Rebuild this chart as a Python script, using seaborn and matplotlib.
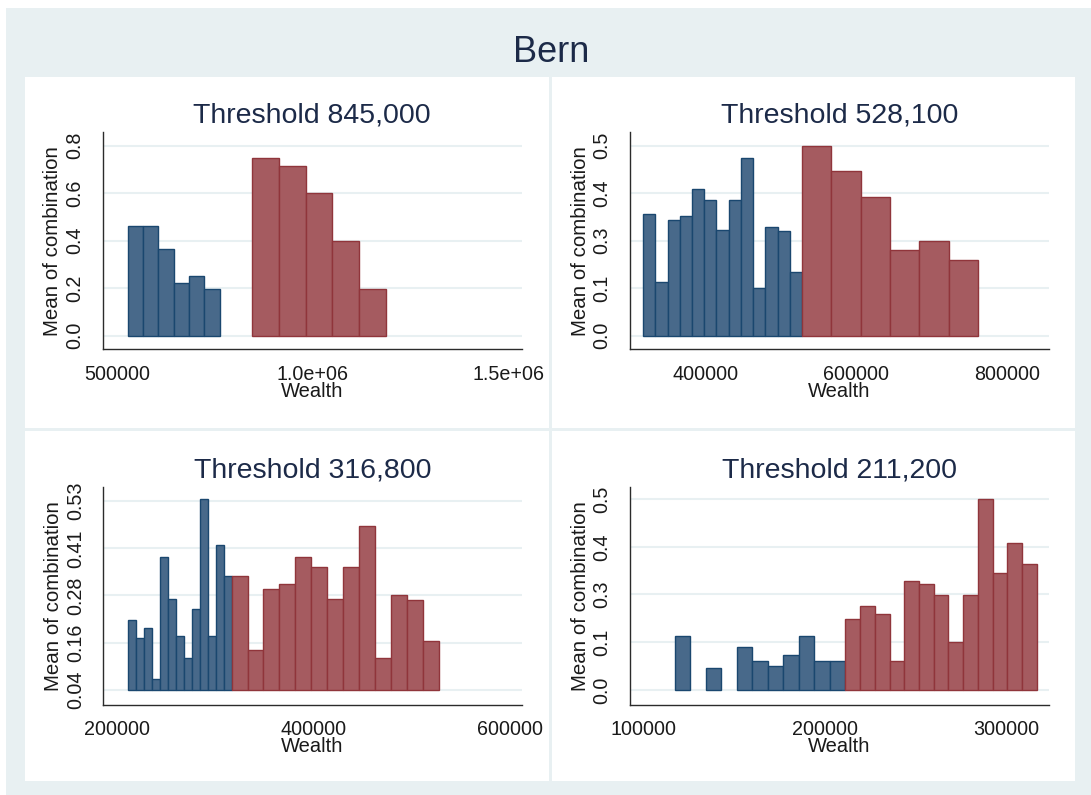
import matplotlib
matplotlib.use("Agg")
import matplotlib.pyplot as plt
import numpy as np
import seaborn as sns
from matplotlib.patches import Rectangle

sns.set_theme(style="white")
plt.rcParams["font.family"] = ["Liberation Sans", "DejaVu Sans"]

# bins below (blue) and above (red) each threshold: start, bin width, mean of combination
titles = ["Threshold 845,000", "Threshold 528,100", "Threshold 316,800", "Threshold 211,200"]

below_start = [528100, 316800, 211200, 117150]
below_width = [39000, 16254, 8123, 8550]
below_mean = [
    [0.463, 0.463, 0.365, 0.220, 0.251, 0.198],
    [0.319, 0.142, 0.303, 0.316, 0.386, 0.357, 0.278, 0.357, 0.468, 0.125, 0.287, 0.274, 0.167],
    [0.220, 0.175, 0.200, 0.069, 0.384, 0.277, 0.179, 0.122, 0.249, 0.535, 0.179, 0.417, 0.335],
    [0.140, np.nan, 0.058, np.nan, 0.112, 0.075, 0.063, 0.091, 0.140, 0.075, 0.075],
]

above_start = [845000, 528100, 316800, 211200]
above_width = [68400, 39000, 16254, 8123]
above_mean = [
    [0.749, 0.716, 0.602, 0.399, 0.198],
    [0.500, 0.432, 0.365, 0.224, 0.249, 0.199],
    [0.335, 0.143, 0.301, 0.314, 0.384, 0.359, 0.277, 0.359, 0.465, 0.122, 0.286, 0.273, 0.166],
    [0.187, 0.220, 0.200, 0.075, 0.285, 0.278, 0.249, 0.125, 0.249, 0.500, 0.306, 0.384, 0.331],
]

bar_base = [0.0, 0.0, 0.04, 0.0]

x_ticks = [[500000, 1000000, 1500000], [400000, 600000, 800000],
           [200000, 400000, 600000], [100000, 200000, 300000]]
x_labels = [["500000", "1.0e+06", "1.5e+06"], ["400000", "600000", "800000"],
            ["200000", "400000", "600000"], ["100000", "200000", "300000"]]
x_lims = [(464000, 1533000), (299400, 856300), (186400, 611900), (92500, 323500)]

y_ticks = [[0.0, 0.2, 0.4, 0.6, 0.8], [0.0, 0.125, 0.25, 0.375, 0.5],
           [0.04, 0.1625, 0.285, 0.4075, 0.53], [0.0, 0.125, 0.25, 0.375, 0.5]]
y_labels = [["0.0", "0.2", "0.4", "0.6", "0.8"], ["0.0", "0.1", "0.3", "0.4", "0.5"],
            ["0.04", "0.16", "0.28", "0.41", "0.53"], ["0.0", "0.1", "0.3", "0.4", "0.5"]]
y_lims = [(-0.058, 0.856), (-0.036, 0.535), (0.001, 0.566), (-0.039, 0.531)]

W, H = 1091, 795
BG = "#e8f0f2"
BLUE, BLUE_EDGE = "#48698a", "#1a476f"
RED, RED_EDGE = "#a55b60", "#90353b"
TXT = "#1a1a1a"
TITLE = "#1c2a48"

fig = plt.figure(figsize=(W / 100, H / 100), dpi=100)
fig.patch.set_facecolor("white")


def px_rect(x0, y0, x1, y1, color, z=-2):
    # rectangle given in pixel coords measured from the top-left corner
    fig.patches.append(Rectangle((x0 / W, 1 - y1 / H), (x1 - x0) / W, (y1 - y0) / H,
                                 transform=fig.transFigure, facecolor=color,
                                 edgecolor="none", zorder=z))


px_rect(6, 8, W, H, BG)
px_rect(25, 77, 1075, 781, "white")
px_rect(549, 77, 552, 781, BG, z=5)
px_rect(25, 428, 1075, 431, BG, z=5)

fig.text(551 / W, 1 - 62 / H, "Bern", ha="center", va="baseline", fontsize=26, color=TITLE)

boxes = [(102.7, 132.3, 521.7, 349.3), (630, 132.3, 1049, 349.3),
         (103.3, 487.3, 521.7, 704.7), (630, 487.3, 1049, 704.7)]

for i, (l, t, r, b) in enumerate(boxes):
    ax = fig.add_axes([l / W, 1 - b / H, (r - l) / W, (b - t) / H])
    ax.set_facecolor("none")
    base = bar_base[i]

    xb = below_start[i] + below_width[i] * np.arange(len(below_mean[i]))
    hb = np.array(below_mean[i])
    ok = ~np.isnan(hb)
    ax.bar(xb[ok], hb[ok] - base, bottom=base, width=below_width[i], align="edge",
           color=BLUE, edgecolor=BLUE_EDGE, linewidth=1.0, zorder=2)

    xa = above_start[i] + above_width[i] * np.arange(len(above_mean[i]))
    ha = np.array(above_mean[i])
    ax.bar(xa, ha - base, bottom=base, width=above_width[i], align="edge",
           color=RED, edgecolor=RED_EDGE, linewidth=1.0, zorder=2)

    ax.set_xlim(*x_lims[i])
    ax.set_ylim(*y_lims[i])
    ax.set_xticks(x_ticks[i])
    ax.set_xticklabels(x_labels[i])
    ax.set_yticks(y_ticks[i])
    ax.set_yticklabels(y_labels[i], rotation=90, va="center")

    ax.yaxis.grid(True, color=BG, linewidth=1.5)
    ax.set_axisbelow(True)
    sns.despine(ax=ax)
    for s in ["left", "bottom"]:
        ax.spines[s].set_color("#2b2b2b")
        ax.spines[s].set_linewidth(1.0)
    ax.tick_params(axis="both", direction="out", length=5.3, width=1.0, color="#2b2b2b",
                   labelsize=14.2, labelcolor=TXT)
    ax.tick_params(axis="y", pad=8)
    ax.tick_params(axis="x", pad=6)

    ax.set_xlabel("Wealth", fontsize=14.5, color=TXT, labelpad=-1.5)
    ax.set_ylabel("Mean of combination", fontsize=14.8, color=TXT, labelpad=2)
    ax.set_title(titles[i], fontsize=20.5, color=TITLE, pad=7)

fig.savefig("out.png", dpi=100)
